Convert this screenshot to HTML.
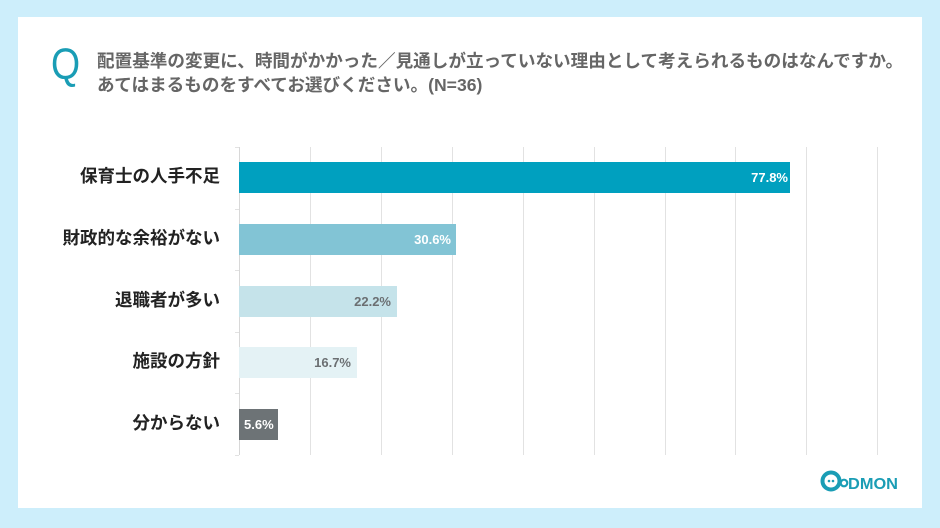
<!DOCTYPE html>
<html><head><meta charset="utf-8"><style>
body{margin:0;width:940px;height:528px;background:#cdeefb;position:relative;overflow:hidden;font-family:"Liberation Sans","Noto Sans CJK JP",sans-serif}
.card{position:absolute;left:18px;top:17px;width:904px;height:491px;background:#fff}
.q{position:absolute;left:51px;top:43px;font-size:44px;color:#1a9db5;font-family:"Liberation Sans",sans-serif;font-weight:normal;line-height:1;transform:scaleX(0.85);transform-origin:left}
.t{position:absolute;left:97px;top:49px;font-size:17.6px;line-height:24px;color:#666;font-weight:bold;white-space:nowrap}
.lab{position:absolute;right:720px;font-size:17.5px;font-weight:bold;color:#222;white-space:nowrap;line-height:20px}
.bar{position:absolute;left:239px;height:31px}
.v{position:absolute;font-size:13px;font-weight:bold;line-height:31px}
.g{position:absolute;top:147px;width:1px;height:308px;background:#e2e2e2}
.tk{position:absolute;left:235px;width:4px;height:1px;background:#e2e2e2}
</style></head><body>
<div class="card"></div>
<div class="q">Q</div>
<div class="t">配置基準の変更に、時間がかかった／見通しが立っていない理由として考えられるものはなんですか。<br>あてはまるものをすべてお選びください。(N=36)</div>
<div class="g" style="left:239px;background:#d8d8d8"></div>
<div class="g" style="left:310px"></div><div class="g" style="left:381px"></div><div class="g" style="left:452px"></div><div class="g" style="left:523px"></div><div class="g" style="left:594px"></div><div class="g" style="left:665px"></div><div class="g" style="left:735px"></div><div class="g" style="left:806px"></div><div class="g" style="left:877px"></div>
<div class="tk" style="top:147px"></div><div class="tk" style="top:209px"></div><div class="tk" style="top:270px"></div><div class="tk" style="top:332px"></div><div class="tk" style="top:393px"></div><div class="tk" style="top:455px"></div>
<div class="bar" style="top:162px;width:551px;background:#00a0bf"></div>
<div class="v" style="top:162px;right:152px;color:#fff">77.8%</div>
<div class="bar" style="top:224px;width:217px;background:#82c4d5"></div>
<div class="v" style="top:224px;right:489px;color:#fff">30.6%</div>
<div class="bar" style="top:286px;width:158px;background:#c5e3ea"></div>
<div class="v" style="top:286px;right:549px;color:#6b6f72">22.2%</div>
<div class="bar" style="top:347px;width:118px;background:#e4f2f5"></div>
<div class="v" style="top:347px;right:589px;color:#6b6f72">16.7%</div>
<div class="bar" style="top:409px;width:39px;background:#6d7376"></div>
<div class="v" style="top:409px;left:244px;color:#fff">5.6%</div>
<div class="lab" style="top:166px">保育士の人手不足</div>
<div class="lab" style="top:228px">財政的な余裕がない</div>
<div class="lab" style="top:290px">退職者が多い</div>
<div class="lab" style="top:351px">施設の方針</div>
<div class="lab" style="top:413px">分からない</div>
<svg style="position:absolute;left:820px;top:468px" width="80" height="26" viewBox="0 0 80 26">
<circle cx="11" cy="13" r="8.5" fill="none" stroke="#1a9db5" stroke-width="4"/>
<circle cx="9" cy="13" r="1.3" fill="#1a9db5"/><circle cx="13" cy="13" r="1.3" fill="#1a9db5"/>
<circle cx="24" cy="15" r="3.3" fill="none" stroke="#1a9db5" stroke-width="2.2"/>
<text x="28" y="21" font-family="Liberation Sans" font-weight="bold" font-size="16" fill="#1a9db5" textLength="50" lengthAdjust="spacingAndGlyphs">DMON</text>
</svg>
</body></html>
